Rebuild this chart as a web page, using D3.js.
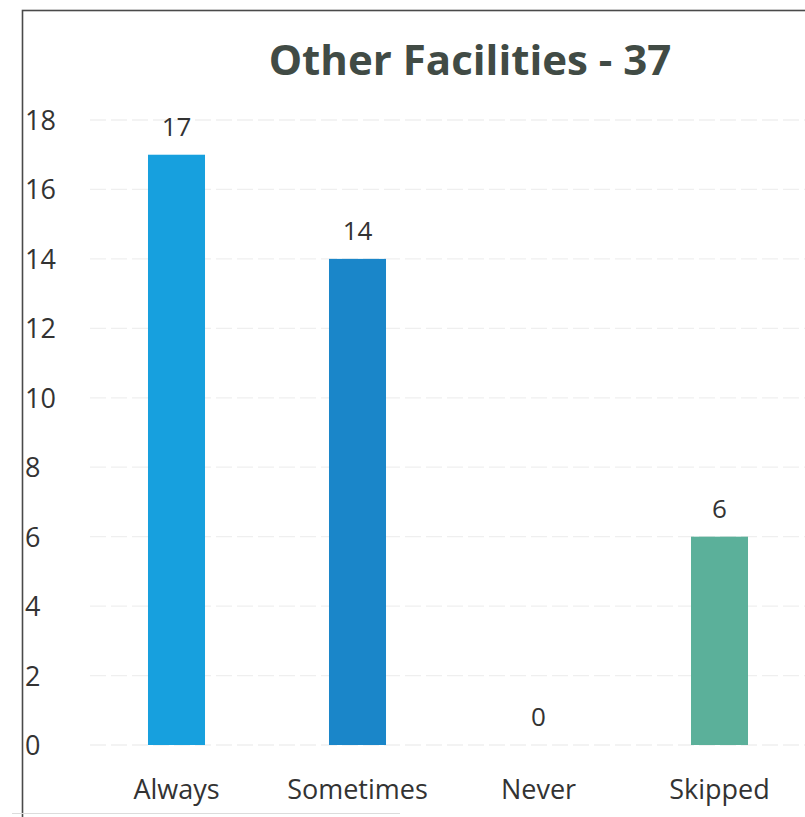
<!DOCTYPE html>
<html><head><meta charset="utf-8">
<script src="https://cdn.jsdelivr.net/npm/d3@7"></script>
<style>body{margin:0;background:#fff}svg{display:block}</style>
</head><body>
<script>
const categories = ["Always", "Sometimes", "Never", "Skipped"];
const values = [17, 14, 0, 6];
const barColors = ["#17a0de", "#1a86c9", "#1a86c9", "#5bb09a"];
const yTicks = [0, 2, 4, 6, 8, 10, 12, 14, 16, 18];
const title = "Other Facilities - 37";

const W = 805, H = 817;
const svg = d3.select("body").append("svg").attr("width", W).attr("height", H);
svg.append("rect").attr("width", W).attr("height", H).attr("fill", "#fff");

// frame
svg.append("rect").attr("x", 22.5).attr("y", 10.5).attr("width", 820).attr("height", 830)
  .attr("fill", "none").attr("stroke", "#4a4a4a").attr("stroke-width", 1.6);
svg.append("line").attr("x1", 12).attr("x2", 400).attr("y1", 813.5).attr("y2", 813.5)
  .attr("stroke", "#dcdcdc").attr("stroke-width", 1);

const x = d3.scaleBand().domain(categories).range([86, 810]).padding(0);
const y = d3.scaleLinear().domain([0, 18]).range([745, 120]);
const barW = x.bandwidth() * 0.315;

// gridlines
svg.append("g").selectAll("line").data(yTicks).join("line")
  .attr("x1", 90).attr("x2", 805)
  .attr("y1", d => y(d)).attr("y2", d => y(d))
  .attr("stroke", "#efefef").attr("stroke-width", 1.3)
  .attr("stroke-dasharray", "16,5");

// y labels
svg.append("g").selectAll("text").data(yTicks).join("text")
  .attr("x", 25).attr("y", d => y(d) + 10)
  .attr("font-family", "Open Sans, sans-serif").attr("font-size", 27)
  .attr("fill", "#333").text(d => d);

// bars
svg.append("g").selectAll("rect").data(values).join("rect")
  .attr("x", (d, i) => x(categories[i]) + x.bandwidth() / 2 - barW / 2)
  .attr("y", d => y(d)).attr("width", barW)
  .attr("height", d => y(0) - y(d))
  .attr("fill", (d, i) => barColors[i]);

// value labels
svg.append("g").selectAll("text").data(values).join("text")
  .attr("x", (d, i) => x(categories[i]) + x.bandwidth() / 2)
  .attr("y", d => y(d) - 19)
  .attr("text-anchor", "middle")
  .attr("font-family", "Open Sans, sans-serif").attr("font-size", 26)
  .attr("fill", "#333").text(d => d);

// category labels
svg.append("g").selectAll("text").data(categories).join("text")
  .attr("x", d => x(d) + x.bandwidth() / 2)
  .attr("y", 799)
  .attr("text-anchor", "middle")
  .attr("font-family", "Open Sans, sans-serif").attr("font-size", 27)
  .attr("fill", "#333").text(d => d);

// title
svg.append("text").attr("x", 470).attr("y", 75).attr("text-anchor", "middle")
  .attr("font-family", "Open Sans, sans-serif").attr("font-weight", "bold")
  .attr("font-size", 42).attr("fill", "#414b45").text(title);
</script>
</body></html>
